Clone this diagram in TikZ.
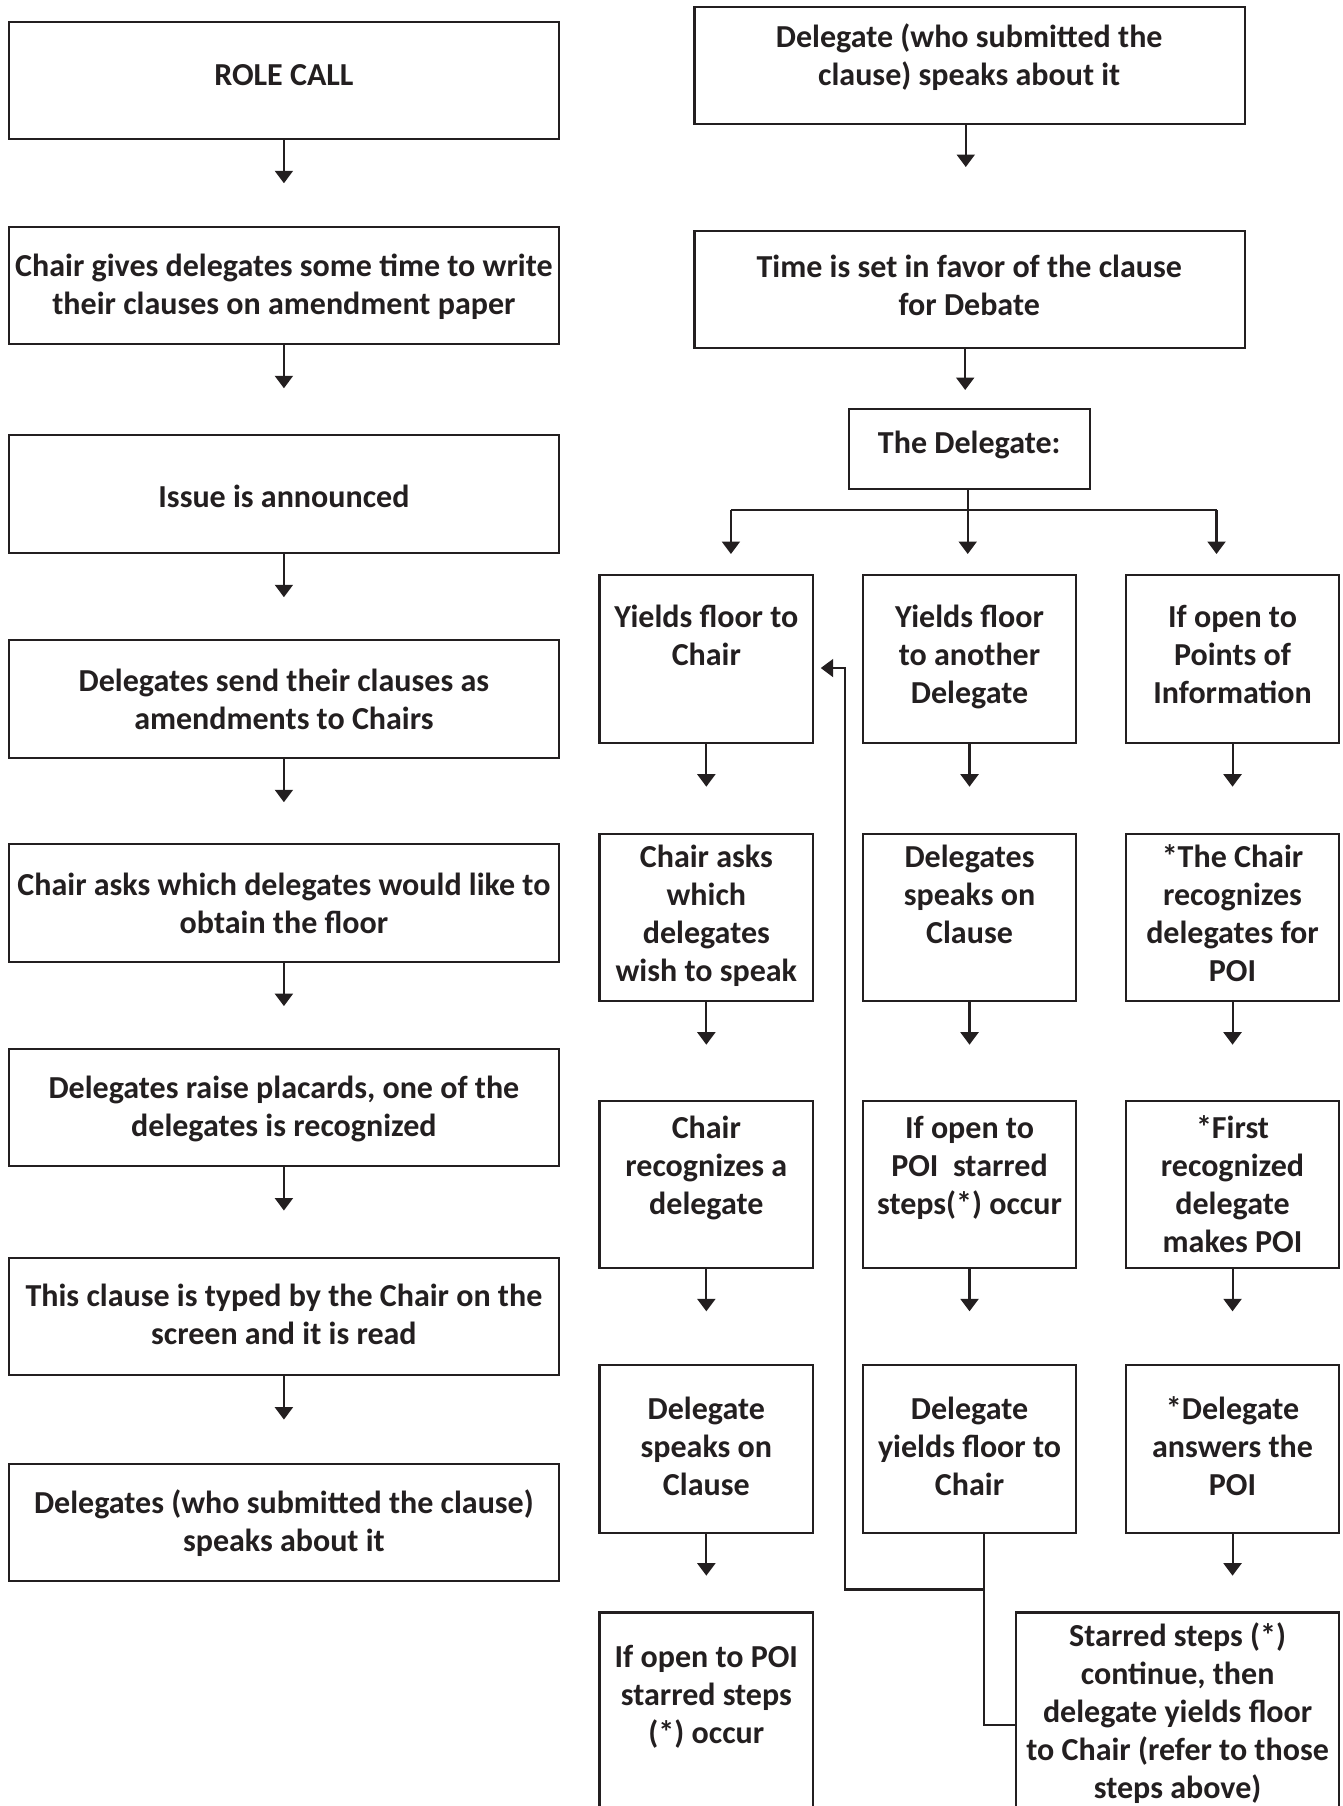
\documentclass[tikz,border=0pt]{standalone}
\usepackage{fontspec}
\setmainfont{Carlito}
\usetikzlibrary{arrows.meta}
\definecolor{ink}{RGB}{35,31,32}
\newcommand\mystrut{\rule{0pt}{11.55pt}}
\newcommand\boxnode[5]{%
  \node[box, minimum width={(#4-#2)*0.5pt}, minimum height={(#5-#3)*0.5pt}] (#1) at ({(#2+#4)/2},{(#3+#5)/2}) {};}
\newcommand\tnode[4]{%
  \node[txt] (#1) at (#2,{#3-23.1}) {\mystrut #4};}
\begin{document}
\begin{tikzpicture}[x=0.5pt,y=-0.5pt,
  box/.style={draw=ink, line width=0.9pt, rectangle, inner sep=0pt, outer sep=0pt},
  txt/.style={font=\fontsize{13.9}{16.5}\selectfont\bfseries, text=ink, align=center, inner sep=0pt, anchor=north},
  line/.style={draw=ink, line width=0.9pt},
  arr/.style={line, -{Triangle[width=7.8pt,length=5.4pt]}}]
\useasboundingbox (0,0) rectangle (1166,1568);
\clip (0,0) rectangle (1166,1568);
% ---------- left column ----------
\boxnode{L1}{8}{18.8}{485}{120.6}
\boxnode{L2}{8}{196.8}{485}{298.6}
\boxnode{L3}{8}{378}{485}{480}
\boxnode{L4}{8}{556}{485}{658}
\boxnode{L5}{8}{733}{485}{835}
\boxnode{L6}{8}{910.5}{485}{1012.5}
\boxnode{L7}{8}{1092}{485}{1194}
\boxnode{L8}{8}{1271}{485}{1373}
\tnode{L1t}{246.5}{73.8}{ROLE CALL}
\tnode{L2t}{246.5}{240}{Chair gives delegates some time to write\\their clauses on amendment paper}
\tnode{L3t}{246.5}{440}{Issue is announced}
\tnode{L4t}{246.5}{600}{Delegates send their clauses as\\amendments to Chairs}
\tnode{L5t}{246.5}{777}{Chair asks which delegates would like to\\obtain the floor}
\tnode{L6t}{246.5}{953}{Delegates raise placards, one of the\\delegates is recognized}
\tnode{L7t}{246.5}{1134}{This clause is typed by the Chair on the\\screen and it is read}
\tnode{L8t}{246.5}{1313.6}{Delegates (who submitted the clause)\\speaks about it}
\foreach \n in {L1,L2,L3,L4,L5,L6,L7}{\draw[arr] (\n.south) -- ++(0,38.5);}
% ---------- right column top ----------
\boxnode{A}{603}{6}{1081}{108}
\boxnode{B}{603}{200.7}{1081}{302}
\boxnode{C}{737}{355.5}{946}{424.5}
\tnode{At}{841.5}{41}{Delegate (who submitted the\\clause) speaks about it}
\tnode{Bt}{841.5}{240.3}{Time is set in favor of the clause\\for Debate}
\tnode{Ct}{841.5}{393.5}{The Delegate:}
\draw[arr] ([xshift=-1.75pt]A.south) -- ++(0,37);
\draw[arr] ([xshift=-2pt]B.south) -- ++(0,36.6);
\coordinate (b0) at (840.2,443);
\coordinate (bl) at (634.6,443);
\coordinate (br) at (1056.2,443);
\draw[line] (C.south -| b0) -- (b0);
\draw[line] (bl) -- (br);
\draw[arr] (bl) -- ++(0,38);
\draw[arr] (b0) -- ++(0,38);
\draw[arr] (br) -- ++(0,38);
% ---------- branch grid ----------
\boxnode{R1a}{520.5}{499.5}{706}{645}
\boxnode{R1b}{749.5}{499.5}{934}{645}
\boxnode{R1c}{977.6}{499.5}{1162.6}{645}
\boxnode{R2a}{520.5}{724}{706}{869}
\boxnode{R2b}{749.5}{724}{934}{869}
\boxnode{R2c}{977.6}{724}{1162.6}{869}
\boxnode{R3a}{520.5}{955.5}{706}{1100.5}
\boxnode{R3b}{749.5}{955.5}{934}{1100.5}
\boxnode{R3c}{977.6}{955.5}{1162.6}{1100.5}
\boxnode{R4a}{520.5}{1185}{706}{1331}
\boxnode{R4b}{749.5}{1185}{934}{1331}
\boxnode{R4c}{977.6}{1185}{1162.6}{1331}
\boxnode{R5a}{520.5}{1400}{706}{1630}
\boxnode{R5s}{882.3}{1400}{1162.6}{1630}
\tnode{R1at}{613.25}{544}{Yields floor to\\Chair}
\tnode{R1bt}{841.75}{544}{Yields floor\\to another\\Delegate}
\tnode{R1ct}{1070.1}{544}{If open to\\Points of\\Information}
\tnode{R2at}{613.25}{752.5}{Chair asks\\which\\delegates\\wish to speak}
\tnode{R2bt}{841.75}{752.5}{Delegates\\speaks on\\Clause}
\tnode{R2ct}{1070.1}{752.5}{*The Chair\\recognizes\\delegates for\\POI}
\tnode{R3at}{613.25}{987.7}{Chair\\recognizes a\\delegate}
\tnode{R3bt}{841.75}{987.7}{If open to\\POI\ \ starred\\steps(*) occur}
\tnode{R3ct}{1070.1}{987.7}{*First\\recognized\\delegate\\makes POI}
\tnode{R4at}{613.25}{1231.6}{Delegate\\speaks on\\Clause}
\tnode{R4bt}{841.75}{1231.6}{Delegate\\yields floor to\\Chair}
\tnode{R4ct}{1070.1}{1231.6}{*Delegate\\answers the\\POI}
\tnode{R5at}{613.25}{1447}{If open to POI\\starred steps\\(*) occur}
\tnode{R5st}{1022.45}{1429}{Starred steps (*)\\continue, then\\delegate yields floor\\to Chair (refer to those\\steps above)}
\foreach \n in {R1a,R1b,R1c,R2a,R2b,R2c,R3a,R3b,R3c}{\draw[arr] (\n.south) -- ++(0,38);}
\draw[arr] (R4a.south) -- ++(0,37);
\draw[arr] (R4c.south) -- ++(0,37);
% ---------- return connector ----------
\coordinate (j1) at (854,1380);
\coordinate (j2) at (734,1380);
\coordinate (j3) at (854,1498);
\coordinate (tipL) at (712.6,580);
\draw[line] (R4b.south -| j1) -- (j1) -- (j3) -- (j3 -| R5s.west);
\draw[arr] (j1) -- (j2) |- (tipL);
\end{tikzpicture}
\end{document}
